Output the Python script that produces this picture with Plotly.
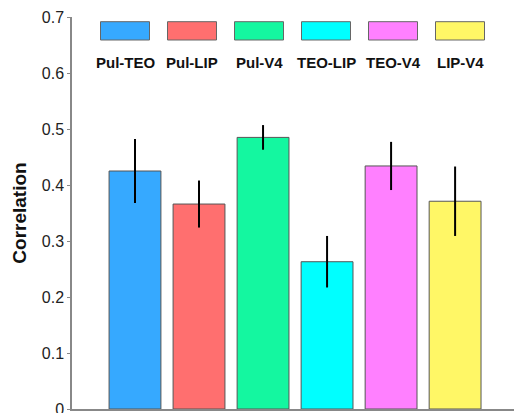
import plotly.graph_objects as go

pairs = ["Pul-TEO", "Pul-LIP", "Pul-V4", "TEO-LIP", "TEO-V4", "LIP-V4"]
correlation = [0.425, 0.366, 0.485, 0.263, 0.434, 0.371]
sem = [0.057, 0.042, 0.022, 0.046, 0.043, 0.062]
colors = ["#36A9FF", "#FF6F6F", "#14F7A0", "#00FFFF", "#FF80FF", "#FFF766"]
yticks = [0, 0.1, 0.2, 0.3, 0.4, 0.5, 0.6, 0.7]
yticklabels = ["0", "0.1", "0.2", "0.3", "0.4", "0.5", "0.6", "0.7"]

W, H = 514, 413
ML, MR, MT, MB = 72, 0, 17, 4
pw = W - ML - MR
ph = H - MT - MB

fig = go.Figure()
fig.add_trace(go.Bar(
    x=list(range(len(pairs))),
    y=correlation,
    width=0.81,
    marker=dict(color=colors, line=dict(color="#555555", width=1)),
    error_y=dict(type="data", array=sem, visible=True, color="black", thickness=2, width=0),
    showlegend=False,
))

# legend drawn as swatches with labels beneath
leg_start, leg_step, box_w = 125, 67, 49
box_top, box_bot, lab_y = 21.7, 40, 63
for i, (name, c) in enumerate(zip(pairs, colors)):
    cx = leg_start + i * leg_step
    x0 = (cx - box_w / 2 - ML) / pw
    x1 = (cx + box_w / 2 - ML) / pw
    fig.add_shape(type="rect", xref="paper", yref="paper",
                  x0=x0, x1=x1,
                  y0=1 - (box_bot - MT) / ph, y1=1 - (box_top - MT) / ph,
                  fillcolor=c, line=dict(color="#666666", width=1))
    fig.add_annotation(xref="paper", yref="paper", x=(cx - ML) / pw,
                       y=1 - (lab_y - MT) / ph, text="<b>" + name + "</b>",
                       showarrow=False, font=dict(size=15, color="#111111"),
                       xanchor="center", yanchor="middle")

fig.update_layout(
    width=W, height=H,
    margin=dict(l=ML, r=MR, t=MT, b=MB, autoexpand=False),
    paper_bgcolor="white", plot_bgcolor="white",
    font=dict(family="Liberation Sans, Arial, sans-serif", color="#222222"),
    xaxis=dict(range=[-0.984, 5.92], showticklabels=False, ticks="",
               showgrid=False, zeroline=False, showline=True,
               linecolor="#888888", linewidth=1.5, automargin=False),
    yaxis=dict(range=[0, 0.7], tickvals=yticks, ticktext=yticklabels,
               ticks="outside", ticklen=3, tickcolor="#888888",
               showgrid=False, zeroline=False, showline=True,
               linecolor="#888888", linewidth=1.5, automargin=False,
               ticklabeloverflow="allow",
               tickfont=dict(size=16, color="#222222"),
               title=dict(text="<b>Correlation</b>", font=dict(size=19, color="#111111"), standoff=10)),
    bargap=0.19,
)

fig.write_html("out.html", config={"displayModeBar": False},
               post_script="document.body.style.margin='0';document.body.style.overflow='hidden';")
